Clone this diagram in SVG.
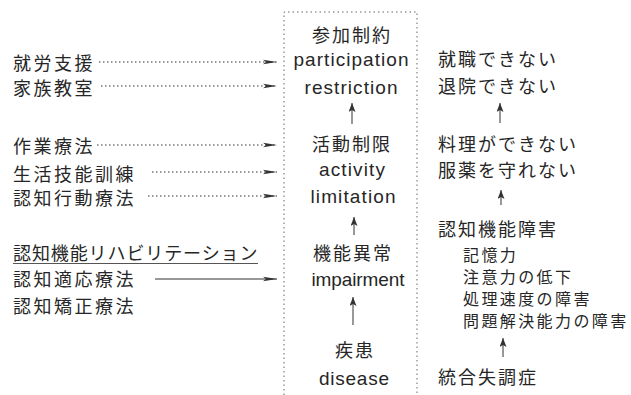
<svg xmlns="http://www.w3.org/2000/svg" width="631" height="395" viewBox="0 0 631 395">
<style>
text{fill:#262626}
.jp{font-family:"Noto Sans CJK JP","Noto Sans",sans-serif;font-size:18px;letter-spacing:2.5px}
.jr{font-family:"Noto Sans CJK JP","Noto Sans",sans-serif;font-size:18px;letter-spacing:2px}
.js{font-family:"Noto Sans CJK JP","Noto Sans",sans-serif;font-size:16px;letter-spacing:2.4px}
.en{font-family:"Liberation Sans",Arial,sans-serif;font-size:19px}
.mid{text-anchor:middle}
.box{fill:none;stroke:#666;stroke-width:1;stroke-dasharray:1.5 3}
.dot{stroke:#333;stroke-width:1;stroke-dasharray:1.5 2.5;fill:none}
.sol{stroke:#333;stroke-width:1;fill:none}
.up{stroke:#333;stroke-width:1;fill:none}
</style>
<defs>
<marker id="ah" markerUnits="userSpaceOnUse" markerWidth="16" markerHeight="8" refX="14" refY="3" orient="auto">
<path d="M0,0.8 L14,3 L0,5.2 L3,3 Z" fill="#333"/>
</marker>
<marker id="au" markerUnits="userSpaceOnUse" markerWidth="10" markerHeight="8" refX="9" refY="3.5" orient="auto">
<path d="M0,0 L9,3.5 L0,7 L2,3.5 Z" fill="#333"/>
</marker>
</defs>

<g id="box">
<path class="box" d="M284,395 V12 H417 V395"/>
</g>

<g id="left-interventions">
<g id="n-shuro"><text class="jp" x="13" y="70">就労支援</text></g>
<g id="n-kazoku"><text class="jp" x="13" y="95">家族教室</text></g>
<g id="n-sagyo"><text class="jp" x="13" y="153">作業療法</text></g>
<g id="n-seikatsu"><text class="jp" x="13" y="181">生活技能訓練</text></g>
<g id="n-ninchikodo"><text class="jp" x="13" y="205">認知行動療法</text></g>
<g id="n-rehab"><text class="jp" x="13" y="260" style="letter-spacing:0.9px">認知機能リハビリテーション</text>
<line x1="13" y1="263.5" x2="258" y2="263.5" stroke="#555" stroke-width="1"/></g>
<g id="n-tekio"><text class="jp" x="13" y="286">認知適応療法</text></g>
<g id="n-kyosei"><text class="jp" x="13" y="313">認知矯正療法</text></g>
</g>

<g id="center-levels">
<g id="n-participation">
<text class="jr mid" x="352" y="42">参加制約</text>
<text class="en mid" x="351" y="66" textLength="115" lengthAdjust="spacing">participation</text>
<text class="en mid" x="351" y="94" textLength="93" lengthAdjust="spacing">restriction</text>
</g>
<g id="n-activity">
<text class="jr mid" x="352" y="151">活動制限</text>
<text class="en mid" x="352" y="176" textLength="66" lengthAdjust="spacing">activity</text>
<text class="en mid" x="353" y="203" textLength="85" lengthAdjust="spacing">limitation</text>
</g>
<g id="n-impairment">
<text class="jr mid" x="353" y="260">機能異常</text>
<text class="en mid" x="358" y="286" textLength="93" lengthAdjust="spacing">impairment</text>
</g>
<g id="n-disease">
<text class="jr mid" x="355" y="357">疾患</text>
<text class="en mid" x="354" y="385" textLength="70" lengthAdjust="spacing">disease</text>
</g>
</g>

<g id="right-examples">
<g id="n-r1">
<text class="jr" x="438" y="66">就職できない</text>
<text class="jr" x="438" y="93">退院できない</text>
</g>
<g id="n-r2">
<text class="jr" x="438" y="151">料理ができない</text>
<text class="jr" x="438" y="177">服薬を守れない</text>
</g>
<g id="n-r3">
<text class="jr" x="438" y="236">認知機能障害</text>
<text class="js" x="463" y="261">記憶力</text>
<text class="js" x="463" y="283">注意力の低下</text>
<text class="js" x="463" y="305">処理速度の障害</text>
<text class="js" x="463" y="327">問題解決能力の障害</text>
</g>
<g id="n-r4">
<text class="jr" x="438" y="384">統合失調症</text>
</g>
</g>

<g id="connectors">
<line class="dot" x1="99" y1="62" x2="277" y2="62" marker-end="url(#ah)"/>
<line class="dot" x1="101" y1="86" x2="277" y2="86" marker-end="url(#ah)"/>
<line class="dot" x1="97" y1="145" x2="277" y2="145" marker-end="url(#ah)"/>
<line class="dot" x1="152" y1="172" x2="277" y2="172" marker-end="url(#ah)"/>
<line class="dot" x1="148" y1="196" x2="277" y2="196" marker-end="url(#ah)"/>
<line class="sol" x1="155" y1="279" x2="277" y2="279" marker-end="url(#ah)"/>
<line class="up" x1="352" y1="124" x2="352" y2="103" marker-end="url(#au)"/>
<line class="up" x1="354" y1="235" x2="354" y2="217" marker-end="url(#au)"/>
<line class="up" x1="353" y1="325" x2="353" y2="297" marker-end="url(#au)"/>
<line class="up" x1="500" y1="123" x2="500" y2="103" marker-end="url(#au)"/>
<line class="up" x1="501" y1="205" x2="501" y2="190" marker-end="url(#au)"/>
<line class="up" x1="503" y1="357" x2="503" y2="338" marker-end="url(#au)"/>
</g>
</svg>
